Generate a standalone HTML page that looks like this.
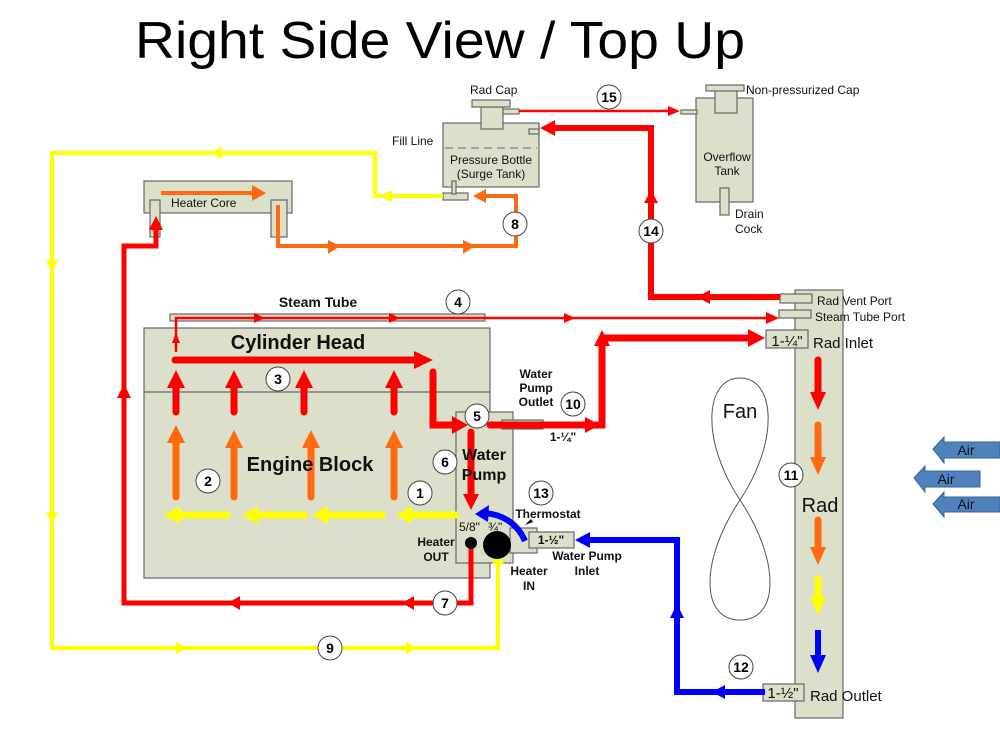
<!DOCTYPE html>
<html><head><meta charset="utf-8"><style>
html,body{margin:0;padding:0;background:#fff}
svg{display:block;font-family:"Liberation Sans",sans-serif}
</style></head><body>
<svg width="1000" height="729" viewBox="0 0 1000 729" xmlns="http://www.w3.org/2000/svg">
<text x="135" y="58" font-size="52" textLength="610" lengthAdjust="spacingAndGlyphs">Right Side View  / Top Up</text>

<g fill="#dcdfc9" stroke="#666" stroke-width="1.2">
<!-- engine -->
<rect x="144" y="328" width="346" height="250"/>
<line x1="144" y1="392" x2="490" y2="392"/>
<rect x="170" y="314" width="315" height="7"/>
<!-- heater core -->
<rect x="144" y="181" width="148" height="32"/>
<rect x="150" y="200" width="10" height="37"/>
<rect x="271" y="200" width="16" height="37"/>
<!-- pressure bottle -->
<rect x="443" y="123" width="96" height="64"/>
<rect x="481" y="107" width="22" height="22"/>
<rect x="472" y="100" width="38" height="7"/>
<rect x="503" y="109" width="16" height="5"/>
<rect x="529" y="129" width="10" height="5"/>
<rect x="443" y="193" width="25" height="7"/>
<rect x="452" y="181" width="4" height="13"/>
<!-- overflow -->
<rect x="696" y="98" width="57" height="104"/>
<rect x="715" y="90" width="22" height="23"/>
<rect x="706" y="85" width="38" height="6"/>
<rect x="681" y="110" width="16" height="4"/>
<rect x="720" y="188" width="9" height="27"/>
<!-- pump -->
<rect x="456" y="412" width="57" height="151"/>
<rect x="502" y="420" width="41" height="9"/>
<rect x="510" y="528" width="27" height="25"/>
<rect x="529" y="532" width="45" height="16"/>
<!-- radiator -->
<rect x="795" y="290" width="48" height="428"/>
<rect x="780" y="294" width="32" height="9"/>
<rect x="779" y="310" width="32" height="8"/>
<rect x="766" y="330" width="42" height="18"/>
<rect x="763" y="684" width="41" height="17"/>
</g>
<line x1="445" y1="148" x2="537" y2="148" stroke="#666" stroke-dasharray="8,5"/>

<!-- yellow loop 9 -->
<g stroke="#ffff00" stroke-width="4" fill="none">
<polyline points="443,196 375,196 375,153 52,153 52,648 498,648 498,556"/>
</g>
<g fill="#ffff00">
<polygon points="380,196 392,190 392,202"/>
<polygon points="210,153 222,147 222,159"/>
<polygon points="52,272 46,260 58,260"/>
<polygon points="52,524 46,512 58,512"/>
<polygon points="188,648 176,642 176,654"/>
<polygon points="418,648 406,642 406,654"/>
<polygon points="498,552 492,564 504,564"/>
</g>

<!-- orange line 8 -->
<g stroke="#ff6a10" stroke-width="4" fill="none">
<polyline points="278,205 278,246 516,246 516,196 480,196"/>
<line x1="161" y1="193" x2="255" y2="193"/>
</g>
<g fill="#ff6a10">
<polygon points="473,196 486,189 486,203"/>
<polygon points="340,246 328,240 328,254"/>
<polygon points="475,246 463,240 463,254"/>
<polygon points="266,193 252,185 252,201"/>
</g>

<!-- red line 7 -->
<g stroke="#ff0000" stroke-width="5" fill="none">
<polyline points="471,543 471,603 124,603 124,246 156,246 156,228"/>
</g>
<g fill="#ff0000">
<polygon points="156,216 149,230 163,230"/>
<polygon points="124,384 117,398 131,398"/>
<polygon points="228,603 240,596 240,610"/>
<polygon points="402,603 414,596 414,610"/>
</g>

<!-- steam tube thin red -->
<g stroke="#ff0000" stroke-width="2.5" fill="none">
<polyline points="176,352 176,318 772,318"/>
<polyline points="519,111 672,111"/>
</g>
<g fill="#ff0000">
<polygon points="176,333 172,343 180,343"/>
<polygon points="265,318 254,313 254,323"/>
<polygon points="400,318 389,313 389,323"/>
<polygon points="575,318 564,313 564,323"/>
<polygon points="779,318 766,312 766,324"/>
<polygon points="680,111 668,106 668,116"/>
</g>

<!-- line 14 -->
<g stroke="#ff0000" stroke-width="6" fill="none">
<polyline points="780,297 651,297 651,128 552,128"/>
</g>
<g fill="#ff0000">
<polygon points="540,128 555,120 555,136"/>
<polygon points="697,297 710,290 710,304"/>
<polygon points="651,190 644,203 658,203"/>
</g>

<!-- head red -->
<g stroke="#ff0000" stroke-width="7" fill="none" stroke-linecap="round">
<line x1="175" y1="360" x2="418" y2="360"/>
<polyline points="433,372 433,425 455,425"/>
<polyline points="490,425 590,425 602,425 602,345"/>
<line x1="602" y1="338" x2="750" y2="338"/>
<line x1="471" y1="432" x2="471" y2="495"/>
<line x1="176" y1="412" x2="176" y2="385"/>
<line x1="234" y1="412" x2="234" y2="385"/>
<line x1="304" y1="412" x2="304" y2="385"/>
<line x1="394" y1="412" x2="394" y2="385"/>
<line x1="818" y1="360" x2="818" y2="393"/>
</g>
<g fill="#ff0000">
<polygon points="433,360 414,351 414,369"/>
<polygon points="468,425 452,416 452,434"/>
<polygon points="600,425 585,417 585,433"/>
<polygon points="602,330 594,346 610,346"/>
<polygon points="765,338 748,329 748,347"/>
<polygon points="471,510 463,494 479,494"/>
<polygon points="176,370 167,388 185,388"/>
<polygon points="234,370 225,388 243,388"/>
<polygon points="304,370 295,388 313,388"/>
<polygon points="394,370 385,388 403,388"/>
<polygon points="818,410 810,392 826,392"/>
</g>

<!-- orange up -->
<g stroke="#ff6a10" stroke-width="7" fill="none" stroke-linecap="round">
<line x1="176" y1="497" x2="176" y2="440"/>
<line x1="234" y1="497" x2="234" y2="445"/>
<line x1="311" y1="497" x2="311" y2="445"/>
<line x1="394" y1="497" x2="394" y2="445"/>
<line x1="818" y1="425" x2="818" y2="458"/>
<line x1="818" y1="520" x2="818" y2="548"/>
</g>
<g fill="#ff6a10">
<polygon points="176,425 167,443 185,443"/>
<polygon points="234,430 225,448 243,448"/>
<polygon points="311,430 302,448 320,448"/>
<polygon points="394,430 385,448 403,448"/>
<polygon points="818,475 810,457 826,457"/>
<polygon points="818,565 810,547 826,547"/>
</g>

<!-- yellow left -->
<g stroke="#ffff00" stroke-width="7" fill="none">
<line x1="458" y1="515" x2="410" y2="515"/>
<line x1="385" y1="515" x2="322" y2="515"/>
<line x1="307" y1="515" x2="253" y2="515"/>
<line x1="230" y1="515" x2="175" y2="515"/>
<line x1="818" y1="577" x2="818" y2="600"/>
</g>
<g fill="#ffff00">
<polygon points="396,515 412,506 412,524"/>
<polygon points="312,515 328,506 328,524"/>
<polygon points="242,515 258,506 258,524"/>
<polygon points="164,515 180,506 180,524"/>
<polygon points="818,615 810,597 826,597"/>
</g>

<!-- blue -->
<g stroke="#0000ff" stroke-width="6" fill="none">
<polyline points="765,692 677,692 677,540 588,540"/>
<path d="M525,541 C518,525 505,515 485,513"/>
<line x1="818" y1="630" x2="818" y2="658"/>
</g>
<g fill="#0000ff">
<polygon points="575,540 590,532 590,548"/>
<polygon points="712,692 725,685 725,699"/>
<polygon points="677,604 670,618 684,618"/>
<polygon points="475,514 489,505 488,522"/>
<polygon points="818,673 810,655 826,655"/>
</g>

<!-- dots -->
<circle cx="471" cy="543" r="6" fill="#000"/>
<circle cx="497" cy="545" r="14" fill="#000"/>

<!-- fan -->
<path d="M740,500 C700,440 705,378 740,378 C775,378 780,440 740,500 C700,560 700,620 740,620 C780,620 780,560 740,500 Z" fill="none" stroke="#555" stroke-width="1"/>

<!-- air arrows -->
<g fill="#4f81bd" stroke="#3a6596" stroke-width="1">
<polygon points="933,449 944,437 944,442 1000,442 1000,458 944,458 944,463"/>
<polygon points="914,478 925,466 925,471 980,471 980,487 925,487 925,492"/>
<polygon points="933,504 944,492 944,497 1000,497 1000,512 944,512 944,517"/>
</g>

<!-- circles -->
<g fill="#fff" stroke="#444" stroke-width="1">
<circle cx="609" cy="97" r="12"/><circle cx="651" cy="231" r="12"/>
<circle cx="515" cy="224" r="12"/><circle cx="458" cy="302" r="12"/>
<circle cx="278" cy="379" r="12"/><circle cx="208" cy="481" r="12"/>
<circle cx="420" cy="493" r="12"/><circle cx="445" cy="462" r="12"/>
<circle cx="477" cy="416" r="12"/><circle cx="573" cy="404" r="12"/>
<circle cx="791" cy="475" r="12"/><circle cx="741" cy="667" r="12"/>
<circle cx="541" cy="493" r="12"/><circle cx="445" cy="603" r="12"/>
<circle cx="330" cy="648" r="12"/>
</g>
<g font-weight="bold" font-size="14" text-anchor="middle">
<text x="609" y="102">15</text><text x="651" y="236">14</text>
<text x="515" y="229">8</text><text x="458" y="307">4</text>
<text x="278" y="384">3</text><text x="208" y="486">2</text>
<text x="420" y="498">1</text><text x="445" y="467">6</text>
<text x="477" y="421">5</text><text x="573" y="409">10</text>
<text x="791" y="480">11</text><text x="741" y="672">12</text>
<text x="541" y="498">13</text><text x="445" y="608">7</text>
<text x="330" y="653">9</text>
</g>

<!-- labels -->
<g font-size="12" fill="#111">
<text x="470" y="94">Rad Cap</text>
<text x="392" y="145">Fill Line</text>
<text x="491" y="164" text-anchor="middle">Pressure Bottle</text>
<text x="491" y="178" text-anchor="middle">(Surge Tank)</text>
<text x="746" y="94">Non-pressurized Cap</text>
<text x="727" y="161" text-anchor="middle">Overflow</text>
<text x="727" y="175" text-anchor="middle">Tank</text>
<text x="735" y="218">Drain</text>
<text x="735" y="233">Cock</text>
<text x="171" y="207">Heater Core</text>
<text x="817" y="305">Rad Vent Port</text>
<text x="815" y="321">Steam Tube Port</text>
<text x="459" y="531">5/8"</text>
<text x="488" y="531">¾"</text>
</g>
<g font-size="15" fill="#111">
<text x="813" y="348">Rad Inlet</text>
<text x="810" y="701">Rad Outlet</text>
<text x="787" y="346" text-anchor="middle">1-¼"</text>
<text x="783" y="698" text-anchor="middle">1-½"</text>
<text x="820" y="512" text-anchor="middle" font-size="20">Rad</text>
<text x="740" y="418" text-anchor="middle" font-size="20">Fan</text>
<text x="966" y="455" text-anchor="middle" font-size="14">Air</text>
<text x="946" y="484" text-anchor="middle" font-size="14">Air</text>
<text x="966" y="509" text-anchor="middle" font-size="14">Air</text>
</g>
<g font-weight="bold" fill="#111">
<text x="318" y="307" font-size="14" text-anchor="middle">Steam Tube</text>
<text x="298" y="349" font-size="20" text-anchor="middle">Cylinder Head</text>
<text x="310" y="471" font-size="20" text-anchor="middle">Engine Block</text>
<text x="484" y="460" font-size="16" text-anchor="middle">Water</text>
<text x="484" y="480" font-size="16" text-anchor="middle">Pump</text>
<g font-size="12">
<text x="536" y="378" text-anchor="middle">Water</text>
<text x="536" y="392" text-anchor="middle">Pump</text>
<text x="536" y="406" text-anchor="middle">Outlet</text>
<text x="563" y="441" text-anchor="middle">1-¼"</text>
<text x="548" y="518" text-anchor="middle">Thermostat</text>
<text x="551" y="544" text-anchor="middle">1-½"</text>
<text x="587" y="560" text-anchor="middle">Water Pump</text>
<text x="587" y="575" text-anchor="middle">Inlet</text>
<text x="436" y="546" text-anchor="middle">Heater</text>
<text x="436" y="561" text-anchor="middle">OUT</text>
<text x="529" y="575" text-anchor="middle">Heater</text>
<text x="529" y="590" text-anchor="middle">IN</text>
</g>
</g>
<polygon points="525,525 531,519 533,522" fill="#000"/>
</svg>
</body></html>
